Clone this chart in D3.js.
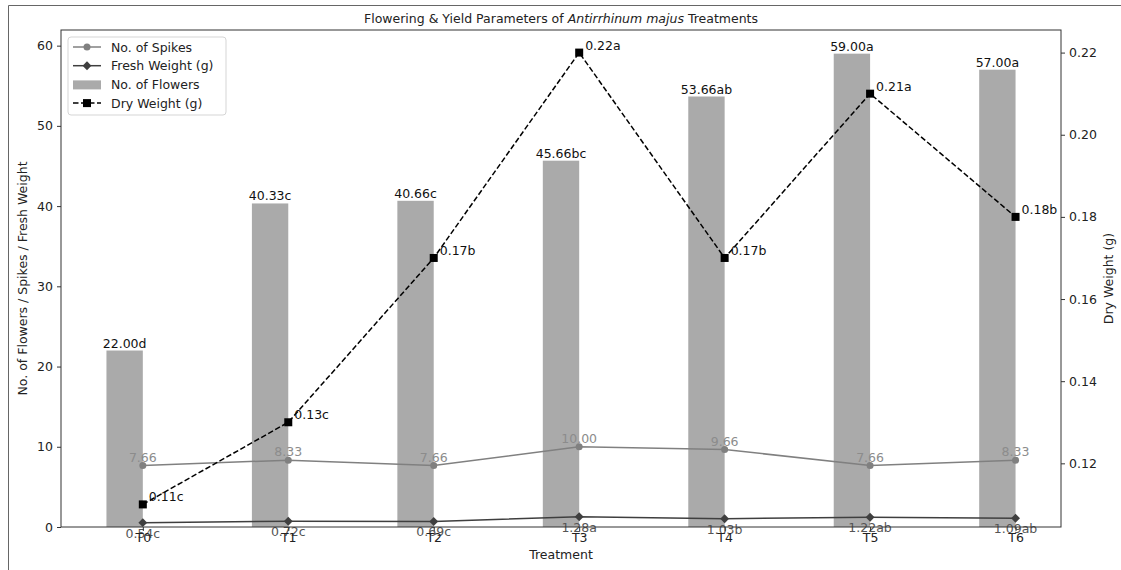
<!DOCTYPE html>
<html>
<head>
<meta charset="utf-8">
<script src="https://cdn.jsdelivr.net/npm/d3@7"></script>
<style>
  body { margin: 0; background: #fff; }
  svg { font-family: "DejaVu Sans", sans-serif; }
</style>
</head>
<body>
<svg id="chart" width="1121" height="570"></svg>
<script>
// chart data
const treatments = ['T0', 'T1', 'T2', 'T3', 'T4', 'T5', 'T6'];
const flowers = [22.00, 40.33, 40.66, 45.66, 53.66, 59.00, 57.00];
const flowerLetters = ['d', 'c', 'c', 'bc', 'ab', 'a', 'a'];
const spikes = [7.66, 8.33, 7.66, 10.00, 9.66, 7.66, 8.33];
const freshWeight = [0.54, 0.72, 0.69, 1.28, 1.03, 1.22, 1.09];
const freshLetters = ['c', 'c', 'c', 'a', 'b', 'ab', 'ab'];
const dryWeight = [0.11, 0.13, 0.17, 0.22, 0.17, 0.21, 0.18];
const dryLetters = ['c', 'c', 'b', 'a', 'b', 'a', 'b'];
const leftTicks = [0, 10, 20, 30, 40, 50, 60];
const rightTicks = [0.12, 0.14, 0.16, 0.18, 0.20, 0.22];

const svg = d3.select('#chart');
const margin = { left: 61, right: 1061, top: 30, bottom: 527 };
const barW = 0.25;

// outer frame (top and left only are visible)
svg.append('path')
    .attr('d', 'M8.5,570 V5.5 H1121')
    .attr('fill', 'none')
    .attr('stroke', '#666')
    .attr('stroke-width', 1);

const x = d3.scaleLinear().domain([-0.5625, 6.3125]).range([margin.left, margin.right]);
const yL = d3.scaleLinear().domain([0, 61.95]).range([margin.bottom, margin.top]);
const yR = d3.scaleLinear().domain([0.1045, 0.2255]).range([margin.bottom, margin.top]);

// bars
svg.selectAll('.bar')
    .data(flowers)
    .enter()
    .append('rect')
    .attr('class', 'bar')
    .attr('x', (d, i) => x(i - barW))
    .attr('y', d => yL(d))
    .attr('width', x(barW) - x(0))
    .attr('height', d => yL(0) - yL(d))
    .attr('fill', '#aaaaaa');

svg.selectAll('.bar-label')
    .data(flowers)
    .enter()
    .append('text')
    .attr('x', (d, i) => x(i - barW / 2))
    .attr('y', d => yL(d) - 3)
    .attr('text-anchor', 'middle')
    .attr('font-size', 12.5)
    .attr('fill', '#111')
    .text((d, i) => d.toFixed(2) + flowerLetters[i]);

// spikes line
const lineL = d3.line().x((d, i) => x(i)).y(d => yL(d));
svg.append('path')
    .datum(spikes)
    .attr('d', lineL)
    .attr('fill', 'none')
    .attr('stroke', '#808080')
    .attr('stroke-width', 1.5);
svg.selectAll('.spike-pt')
    .data(spikes)
    .enter()
    .append('circle')
    .attr('cx', (d, i) => x(i))
    .attr('cy', d => yL(d))
    .attr('r', 3.5)
    .attr('fill', '#808080');
svg.selectAll('.spike-label')
    .data(spikes)
    .enter()
    .append('text')
    .attr('x', (d, i) => x(i))
    .attr('y', d => yL(d) - 4)
    .attr('text-anchor', 'middle')
    .attr('font-size', 12.5)
    .attr('fill', '#8c8c8c')
    .text(d => d.toFixed(2));

// fresh weight line
svg.append('path')
    .datum(freshWeight)
    .attr('d', lineL)
    .attr('fill', 'none')
    .attr('stroke', '#3f3f3f')
    .attr('stroke-width', 1.5);
const diamond = d3.symbol().type(d3.symbolDiamond2).size(50);
svg.selectAll('.fresh-pt')
    .data(freshWeight)
    .enter()
    .append('path')
    .attr('transform', (d, i) => `translate(${x(i)},${yL(d)})`)
    .attr('d', diamond)
    .attr('fill', '#3f3f3f');
svg.selectAll('.fresh-label')
    .data(freshWeight)
    .enter()
    .append('text')
    .attr('x', (d, i) => x(i))
    .attr('y', d => yL(d) + 15)
    .attr('text-anchor', 'middle')
    .attr('font-size', 12.5)
    .attr('fill', '#555')
    .text((d, i) => d.toFixed(2) + freshLetters[i]);

// axes
const axisColor = '#333';
const xAxis = svg.append('g')
    .attr('transform', `translate(0,${margin.bottom})`)
    .call(d3.axisBottom(x).tickValues(d3.range(treatments.length)).tickFormat(i => treatments[i]).tickSize(4).tickPadding(2));
const yAxisL = svg.append('g')
    .attr('transform', `translate(${margin.left},0)`)
    .call(d3.axisLeft(yL).tickValues(leftTicks).tickSize(4).tickPadding(4));
const yAxisR = svg.append('g')
    .attr('transform', `translate(${margin.right},0)`)
    .call(d3.axisRight(yR).tickValues(rightTicks).tickFormat(d3.format('.2f')).tickSize(4).tickPadding(4));
[xAxis, yAxisL, yAxisR].forEach(g => {
    g.select('.domain').remove();
    g.selectAll('line').attr('stroke', axisColor);
    g.selectAll('text').attr('font-size', 12.5).attr('fill', '#222').attr('font-family', '"DejaVu Sans", sans-serif');
});

// spines
svg.append('rect')
    .attr('x', margin.left)
    .attr('y', margin.top)
    .attr('width', margin.right - margin.left)
    .attr('height', margin.bottom - margin.top)
    .attr('fill', 'none')
    .attr('stroke', axisColor)
    .attr('stroke-width', 1);

// dry weight line (right axis)
const lineR = d3.line().x((d, i) => x(i)).y(d => yR(d));
svg.append('path')
    .datum(dryWeight)
    .attr('d', lineR)
    .attr('fill', 'none')
    .attr('stroke', '#000')
    .attr('stroke-width', 1.5)
    .attr('stroke-dasharray', '5.5,2.5');
svg.selectAll('.dry-pt')
    .data(dryWeight)
    .enter()
    .append('rect')
    .attr('x', (d, i) => x(i) - 4)
    .attr('y', d => yR(d) - 4)
    .attr('width', 8)
    .attr('height', 8)
    .attr('fill', '#000');
svg.selectAll('.dry-label')
    .data(dryWeight)
    .enter()
    .append('text')
    .attr('x', (d, i) => x(i) + 6)
    .attr('y', d => yR(d) - 3)
    .attr('font-size', 12.5)
    .attr('fill', '#111')
    .text((d, i) => d.toFixed(2) + dryLetters[i]);

// title
const title = svg.append('text')
    .attr('x', (margin.left + margin.right) / 2)
    .attr('y', 23)
    .attr('text-anchor', 'middle')
    .attr('font-size', 12.5)
    .attr('fill', '#222');
title.append('tspan').text('Flowering & Yield Parameters of ');
title.append('tspan').attr('font-style', 'italic').text('Antirrhinum majus');
title.append('tspan').text(' Treatments');

// axis labels
svg.append('text')
    .attr('x', (margin.left + margin.right) / 2)
    .attr('y', 559)
    .attr('text-anchor', 'middle')
    .attr('font-size', 12.5)
    .attr('fill', '#222')
    .text('Treatment');
svg.append('text')
    .attr('transform', `translate(27,${(margin.top + margin.bottom) / 2}) rotate(-90)`)
    .attr('text-anchor', 'middle')
    .attr('font-size', 12.5)
    .attr('fill', '#222')
    .text('No. of Flowers / Spikes / Fresh Weight');
svg.append('text')
    .attr('transform', `translate(1113,${(margin.top + margin.bottom) / 2}) rotate(-90)`)
    .attr('text-anchor', 'middle')
    .attr('font-size', 12.5)
    .attr('fill', '#222')
    .text('Dry Weight (g)');

// legend
const legend = svg.append('g').attr('transform', 'translate(68,37)');
legend.append('rect')
    .attr('width', 158)
    .attr('height', 78)
    .attr('rx', 3)
    .attr('fill', '#fff')
    .attr('fill-opacity', 0.8)
    .attr('stroke', '#d5d5d5');
const legendItems = [
    { label: 'No. of Spikes', kind: 'spikes' },
    { label: 'Fresh Weight (g)', kind: 'fresh' },
    { label: 'No. of Flowers', kind: 'bar' },
    { label: 'Dry Weight (g)', kind: 'dry' }
];
legendItems.forEach((item, i) => {
    const g = legend.append('g').attr('transform', `translate(0,${10 + i * 18.7})`);
    if (item.kind === 'bar') {
        g.append('rect').attr('x', 5).attr('y', -4).attr('width', 28).attr('height', 9).attr('fill', '#aaaaaa');
    } else if (item.kind === 'spikes') {
        g.append('line').attr('x1', 5).attr('x2', 33).attr('stroke', '#808080').attr('stroke-width', 1.5);
        g.append('circle').attr('cx', 19).attr('r', 3.5).attr('fill', '#808080');
    } else if (item.kind === 'fresh') {
        g.append('line').attr('x1', 5).attr('x2', 33).attr('stroke', '#3f3f3f').attr('stroke-width', 1.5);
        g.append('path').attr('transform', 'translate(19,0)').attr('d', diamond).attr('fill', '#3f3f3f');
    } else {
        g.append('line').attr('x1', 5).attr('x2', 33).attr('stroke', '#000').attr('stroke-width', 1.5).attr('stroke-dasharray', '5.5,2.5');
        g.append('rect').attr('x', 15).attr('y', -4).attr('width', 8).attr('height', 8).attr('fill', '#000');
    }
    g.append('text')
        .attr('x', 43)
        .attr('y', 4.5)
        .attr('font-size', 12.5)
        .attr('fill', '#222')
        .text(item.label);
});
</script>
</body>
</html>
